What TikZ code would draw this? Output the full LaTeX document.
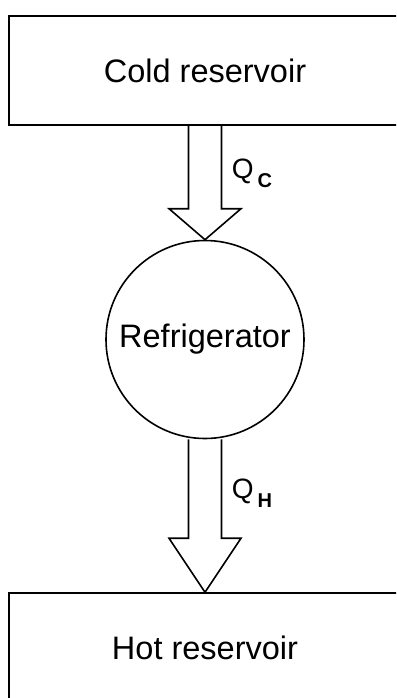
\documentclass[tikz,border=0pt]{standalone}
\usepackage{fontspec}
\setmainfont{Liberation Sans}
\usetikzlibrary{calc}
\begin{document}
\begin{tikzpicture}[x=1pt,y=-1pt,
  line width=1.6pt,
  reservoir/.style={draw,rectangle,minimum width=392pt,minimum height=109pt,inner sep=0pt,
    font=\fontsize{32.5}{38}\selectfont},
  machine/.style={draw,circle,minimum size=198pt,inner sep=0pt,
    font=\fontsize{32.5}{38}\selectfont},
  heatlabel/.style={anchor=base west,inner sep=0pt,font=\fontsize{28}{30}\selectfont},
  heatarrow/.style={line join=miter}
]
\useasboundingbox (0,0) rectangle (396,698);
\clip (0,0) rectangle (396,698);
\fill[white] (0,0) rectangle (396,698);

\node[reservoir] (cold) at (205,70.5) {Cold reservoir};
\node[machine] (ref) at (205,339.5) {Refrigerator};
\node[reservoir] (hot) at (205,647.5) {Hot reservoir};

% upper arrow (Q_C)
\draw[heatarrow] ($(cold.south)+(-16.5,0)$) -- ($(ref.north)+(-16.5,-31)$)
  -- ($(ref.north)+(-36,-31)$) -- (ref.north) -- ($(ref.north)+(36,-31)$)
  -- ($(ref.north)+(16.5,-31)$) -- ($(cold.south)+(16.5,0)$);
% lower arrow (Q_H)
\draw[heatarrow] ($(ref.south)+(-16.5,0)$) -- ($(hot.north)+(-16.5,-54)$)
  -- ($(hot.north)+(-36,-54)$) -- (hot.north) -- ($(hot.north)+(36,-54)$)
  -- ($(hot.north)+(16.5,-54)$) -- ($(ref.south)+(16.5,0)$);

\node[heatlabel] (qc) at (231,178) {Q\hspace{4pt}\raisebox{-9pt}{\fontsize{20}{20}\selectfont\bfseries C}};
\node[heatlabel] (qh) at (231,498) {Q\hspace{4pt}\raisebox{-9pt}{\fontsize{20}{20}\selectfont\bfseries H}};
\end{tikzpicture}
\end{document}
